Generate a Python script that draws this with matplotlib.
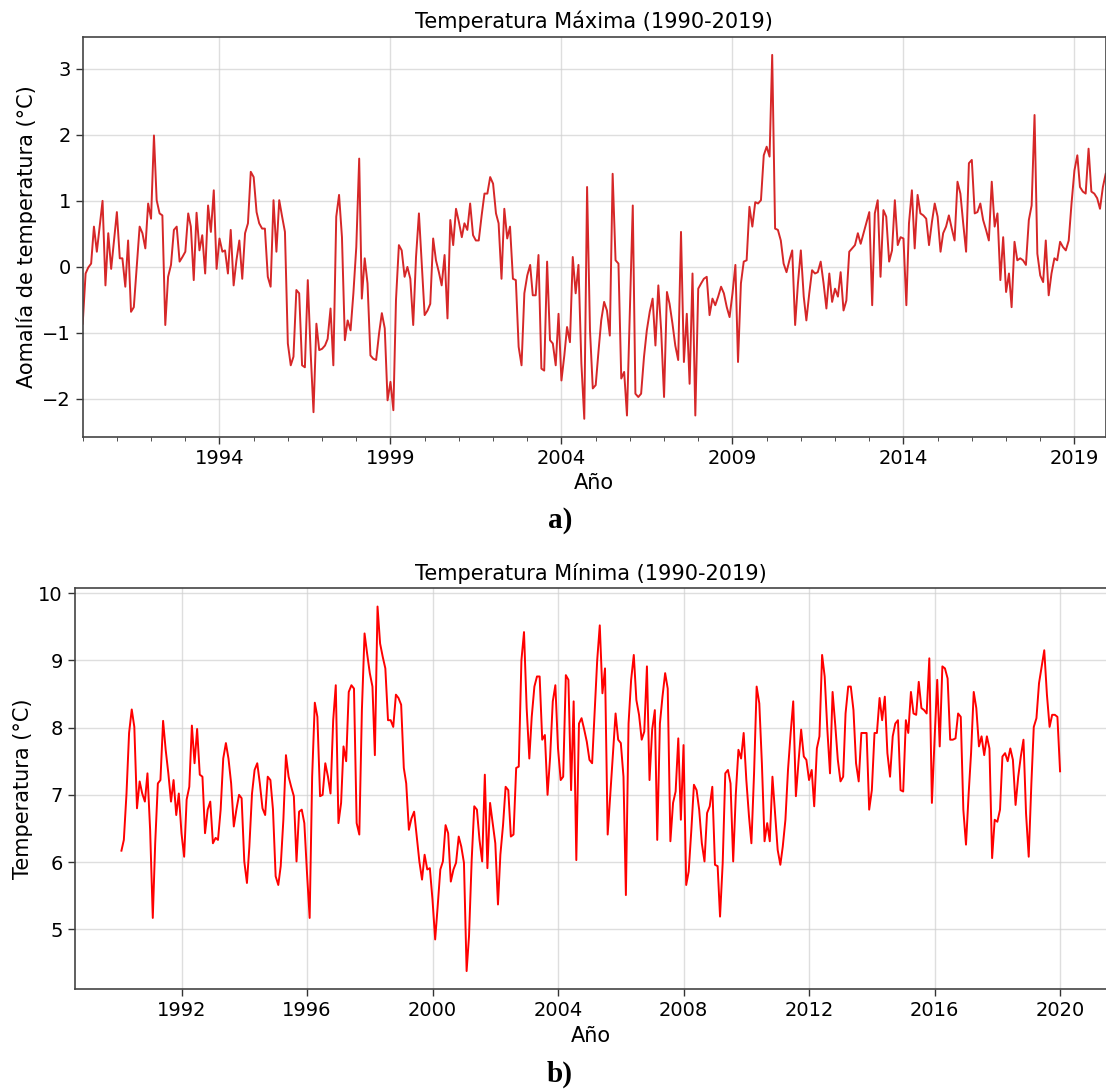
import matplotlib
matplotlib.use("Agg")
import matplotlib.pyplot as plt
import matplotlib.dates as mdates
import matplotlib.ticker as mticker
import pandas as pd
from datetime import datetime

# anomalía de temperatura máxima, mensual 1990-01 .. 2019-12
tmax_anom = [
    -0.86, -0.10, -0.01, 0.05, 0.61, 0.23, 0.61, 1.00, -0.28, 0.51,
    -0.03, 0.40, 0.83, 0.13, 0.13, -0.30, 0.40, -0.68, -0.61, 0.00,
    0.61, 0.51, 0.28, 0.96, 0.73, 1.99, 1.01, 0.81, 0.78, -0.88,
    -0.15, 0.03, 0.56, 0.61, 0.08, 0.15, 0.23, 0.81, 0.61, -0.20,
    0.82, 0.25, 0.48, -0.10, 0.93, 0.53, 1.16, -0.03, 0.43, 0.23,
    0.25, -0.10, 0.56, -0.28, 0.10, 0.40, -0.18, 0.51, 0.66, 1.44,
    1.36, 0.83, 0.66, 0.58, 0.58, -0.15, -0.30, 1.01, 0.23, 1.01,
    0.76, 0.53, -1.16, -1.49, -1.36, -0.35, -0.40, -1.49, -1.52, -0.20,
    -1.31, -2.20, -0.86, -1.26, -1.24, -1.19, -1.09, -0.63, -1.49, 0.76,
    1.09, 0.45, -1.11, -0.81, -0.96,
    -0.40, 0.30, 1.64, -0.48, 0.13, -0.25, -1.34, -1.39, -1.41, -1.01,
    -0.70, -0.93, -2.02, -1.74, -2.17, -0.50, 0.33, 0.25, -0.15, 0.00,
    -0.18, -0.88, 0.15, 0.81, 0.05, -0.73, -0.66, -0.56, 0.43, 0.10,
    -0.08, -0.28, 0.18, -0.78, 0.71, 0.33, 0.88, 0.68, 0.45, 0.66,
    0.56, 0.96, 0.48, 0.40, 0.40, 0.78, 1.11, 1.11, 1.36, 1.26,
    0.81, 0.66, -0.18, 0.88, 0.43, 0.61, -0.18, -0.20, -1.21, -1.49,
    -0.40, -0.13, 0.03, -0.43, -0.43, 0.18, -1.54, -1.57, 0.08, -1.11,
    -1.16, -1.49, -0.71, -1.72, -1.34, -0.91, -1.14, 0.15, -0.40, 0.03,
    -1.46, -2.30, 1.21, -0.96, -1.84, -1.79, -1.26,
    -0.81, -0.53, -0.66, -1.04, 1.41, 0.10, 0.05, -1.69, -1.59, -2.25,
    -0.66, 0.93, -1.92, -1.97, -1.92, -1.36, -0.96, -0.68, -0.48, -1.19,
    -0.28, -0.96, -1.97, -0.38, -0.56, -0.86, -1.19, -1.41, 0.53, -1.44,
    -0.71, -1.77, -0.10, -2.25, -0.33, -0.25, -0.18, -0.15, -0.73, -0.48,
    -0.58, -0.45, -0.30, -0.40, -0.61, -0.76, -0.40, 0.03, -1.44, -0.25,
    0.08, 0.10, 0.91, 0.61, 0.98, 0.96, 1.01, 1.69, 1.82, 1.67,
    3.21, 0.58, 0.56, 0.40, 0.05, -0.08, 0.10, 0.25, -0.88, -0.25,
    0.25, -0.45, -0.81, -0.40, -0.05, -0.10, -0.08, 0.08, -0.25, -0.63,
    -0.10, -0.53, -0.33, -0.45, -0.08, -0.66, -0.51, 0.23,
    0.28, 0.33, 0.51, 0.35, 0.51, 0.66, 0.83, -0.58, 0.81, 1.01,
    -0.15, 0.86, 0.76, 0.08, 0.25, 1.01, 0.33, 0.45, 0.43, -0.58,
    0.66, 1.16, 0.28, 1.09, 0.81, 0.78, 0.73, 0.33, 0.68, 0.96,
    0.76, 0.23, 0.51, 0.61, 0.78, 0.58, 0.40, 1.29, 1.11, 0.66,
    0.23, 1.57, 1.62, 0.81, 0.83, 0.96, 0.71, 0.56, 0.40, 1.29,
    0.61, 0.81, -0.20, 0.45, -0.38, -0.10, -0.61, 0.38, 0.10, 0.13,
    0.10, 0.03, 0.71, 0.93, 2.30, 0.20, -0.13, -0.23, 0.40, -0.43,
    -0.10, 0.13, 0.10, 0.38, 0.30, 0.25, 0.40, 0.96, 1.46, 1.69,
    1.21, 1.14, 1.11, 1.79, 1.14, 1.11, 1.04, 0.88, 1.21, 1.41,
]

# temperatura mínima media mensual (°C), 1990-01 .. 2019-12
tmin = [
    6.17, 6.33, 7.02, 7.92, 8.27, 8.01, 6.80, 7.20, 7.02, 6.90,
    7.32, 6.48, 5.17, 6.28, 7.17, 7.22, 8.10, 7.67, 7.32, 6.90,
    7.22, 6.70, 7.02, 6.43, 6.08, 6.93, 7.12, 8.03, 7.47, 7.98,
    7.30, 7.27, 6.43, 6.78, 6.90, 6.28, 6.36, 6.33, 6.78, 7.54,
    7.77, 7.54, 7.17, 6.53, 6.78, 7.00, 6.95, 6.01, 5.69, 6.23,
    7.02, 7.37, 7.47, 7.17, 6.80, 6.70, 7.27, 7.22, 6.78, 5.79,
    5.66, 5.94, 6.63, 7.59, 7.27, 7.12, 6.98, 6.01, 6.75, 6.78,
    6.58, 5.84, 5.17, 7.27, 8.37, 8.16, 6.98, 7.00, 7.47, 7.27,
    7.02, 8.11, 8.63, 6.58,
    6.88, 7.72, 7.50, 8.53, 8.63, 8.58, 6.58, 6.41, 8.26, 9.40,
    9.10, 8.81, 8.61, 7.59, 9.80, 9.25, 9.05, 8.88, 8.11, 8.11,
    8.01, 8.49, 8.44, 8.34, 7.40, 7.17, 6.48, 6.65, 6.75, 6.38,
    6.01, 5.74, 6.11, 5.89, 5.91, 5.44, 4.85, 5.34, 5.89, 6.01,
    6.55, 6.43, 5.71, 5.89, 5.99, 6.38, 6.23, 5.99, 4.38, 4.90,
    6.03, 6.83, 6.78, 6.33, 6.01, 7.30, 5.91, 6.88, 6.58, 6.28,
    5.37, 6.11, 6.55, 7.12, 7.07, 6.38, 6.41, 7.40, 7.42, 9.00,
    9.42, 8.29, 7.54, 8.16, 8.61, 8.76, 8.76, 7.82, 7.89, 7.00,
    7.56, 8.39, 8.63, 7.69, 7.22, 7.27, 8.78, 8.71, 7.07, 8.39,
    6.03, 8.06, 8.14, 7.97, 7.79, 7.52, 7.47, 8.20, 9.00, 9.52,
    8.51, 8.88, 6.41, 7.02, 7.62, 8.21, 7.82, 7.77, 7.27, 5.51,
    8.06, 8.71, 9.08, 8.41, 8.19, 7.82, 7.94, 8.91, 7.22, 7.97,
    8.26, 6.33, 8.06, 8.46, 8.81, 8.58, 6.31, 6.88, 7.05, 7.84,
    6.63, 7.74, 5.66, 5.86, 6.48, 7.15, 7.07, 6.78, 6.28, 6.01,
    6.73, 6.83, 7.12, 5.96, 5.94, 5.19, 5.99, 7.32, 7.37, 7.17,
    6.01, 7.02, 7.67, 7.54, 7.92, 7.22, 6.68, 6.28, 7.32, 8.61,
    8.36, 7.47, 6.31, 6.58, 6.31, 7.27, 6.73, 6.18, 5.96, 6.23,
    6.63, 7.37, 7.92, 8.39, 6.98, 7.50, 7.97, 7.57, 7.52, 7.22,
    7.37, 6.83, 7.69, 7.87, 9.08, 8.76, 7.97, 7.32, 8.53, 8.04,
    7.52, 7.20, 7.27, 8.21, 8.61, 8.61, 8.26,
    7.47, 7.20, 7.92, 7.92, 7.92, 6.78, 7.07, 7.92, 7.92, 8.44,
    8.11, 8.46, 7.62, 7.27, 7.87, 8.06, 8.11, 7.07, 7.05, 8.11,
    7.92, 8.53, 8.21, 8.19, 8.68, 8.29, 8.26, 8.21, 9.03, 6.88,
    7.82, 8.71, 7.72, 8.91, 8.88, 8.73, 7.82, 7.82, 7.84, 8.21,
    8.16, 6.78, 6.26, 7.02, 7.62, 8.53, 8.29, 7.72, 7.87, 7.59,
    7.87, 7.69, 6.06, 6.63, 6.60, 6.78, 7.57, 7.62, 7.50, 7.69,
    7.52, 6.85, 7.27, 7.57, 7.82, 6.72, 6.08, 7.17, 8.01, 8.14,
    8.66, 8.91, 9.15, 8.49, 8.01, 8.19, 8.19, 8.16, 7.35,
]

anios_top = [1994, 1999, 2004, 2009, 2014, 2019]

fechas_max = pd.date_range("1990-01-01", periods=len(tmax_anom), freq="MS")
fechas_min = pd.date_range("1990-01-01", periods=len(tmin), freq="MS") + pd.offsets.MonthEnd(0)

W, H = 1106, 1089
fig = plt.figure(figsize=(W / 100, H / 100), dpi=100)

def px_axes(left, top, right, bottom):
    return fig.add_axes([left / W, 1 - bottom / H, (right - left) / W, (bottom - top) / H])

ax1 = px_axes(82.7, 36.7, 1105.7, 437)
ax2 = px_axes(74.5, 588.3, 1107, 989.3)

fs_tick = 14
fs_lab = 15
grid_kw = dict(color="#d0d0d0", linewidth=1.0, alpha=0.7)

# --- a) temperatura máxima (estilo pandas: eje de periodos) ---
ax1.plot(fechas_max, tmax_anom, color="#d62728", lw=1.4)
ax1.set_xlim(fechas_max[0], fechas_max[-1])
ax1.xaxis.set_major_locator(mticker.FixedLocator(
    mdates.date2num([datetime(y, 1, 1) for y in anios_top])))
ax1.xaxis.set_major_formatter(mdates.DateFormatter("%Y"))
ax1.xaxis.set_minor_locator(mdates.YearLocator())
ax1.set_title("Temperatura Máxima (1990-2019)", fontsize=fs_lab)
ax1.set_xlabel("Año", fontsize=fs_lab)
ax1.set_ylabel("Aomalía de temperatura (°C)", fontsize=fs_lab)
ax1.grid(True, **grid_kw)

# --- b) temperatura mínima ---
ax2.plot(fechas_min, tmin, color="red", lw=1.4)
ax2.xaxis.set_major_locator(mdates.YearLocator(4))
ax2.xaxis.set_major_formatter(mdates.DateFormatter("%Y"))
ax2.set_title("Temperatura Mínima (1990-2019)", fontsize=fs_lab)
ax2.set_xlabel("Año", fontsize=fs_lab)
ax2.set_ylabel("Temperatura (°C)", fontsize=fs_lab)
ax2.grid(True, **grid_kw)

for ax in (ax1, ax2):
    ax.tick_params(labelsize=fs_tick, length=5, width=1, color="#333333")
    ax.tick_params(which="minor", length=3, color="#333333")
    for s in ax.spines.values():
        s.set_color("#444444")
        s.set_linewidth(1.2)

fig.text(560 / W, 1 - 521 / H, "a)", fontsize=21, fontweight="bold",
         family="Liberation Serif", ha="center", va="center")
fig.text(560 / W, 1 - 1074 / H, "b)", fontsize=21, fontweight="bold",
         family="Liberation Serif", ha="center", va="center")

fig.savefig("out.png", dpi=100)
